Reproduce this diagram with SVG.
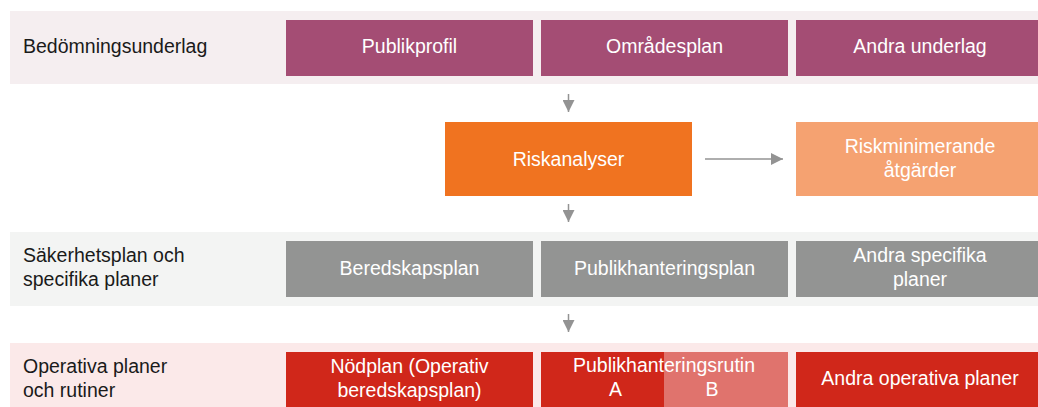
<svg xmlns="http://www.w3.org/2000/svg" width="1038" height="407" viewBox="0 0 1038 407">
  <style>
    text { font-family: "Liberation Sans", Arial, sans-serif; font-size: 19.5px; }
    .lbl { fill: #1a1a1a; }
    .bt { fill: #ffffff; text-anchor: middle; }
    .purple { fill: #a44d74; }
    .gray { fill: #939493; }
    .red { fill: #d0271a; }
    .conn { stroke: #939393; stroke-width: 1.5; fill: none; }
  </style>
  <defs>
    <marker id="ah" viewBox="0 0 12 12" refX="12" refY="6" markerWidth="12" markerHeight="12" markerUnits="userSpaceOnUse" orient="auto">
      <path d="M0,0 L12,6 L0,12 z" fill="#939393"/>
    </marker>
  </defs>

  <!-- bands -->
  <g id="band-bedomning">
    <rect x="10" y="11" width="1028" height="73" fill="#f5eef0"/>
    <text class="lbl" x="23" y="53">Bedömningsunderlag</text>
  </g>
  <g id="band-sakerhet">
    <rect x="10" y="232" width="1028" height="74" fill="#f3f4f3"/>
    <text class="lbl" x="23" y="262">Säkerhetsplan och</text>
    <text class="lbl" x="23" y="286">specifika planer</text>
  </g>
  <g id="band-operativa">
    <rect x="10" y="343" width="1028" height="64" fill="#fbe9e9"/>
    <text class="lbl" x="23" y="373">Operativa planer</text>
    <text class="lbl" x="23" y="397">och rutiner</text>
  </g>

  <!-- row 1 -->
  <g id="publikprofil">
    <rect class="purple" x="286" y="20" width="247" height="56"/>
    <text class="bt" x="409.5" y="53">Publikprofil</text>
  </g>
  <g id="omradesplan">
    <rect class="purple" x="541" y="20" width="247" height="56"/>
    <text class="bt" x="664.5" y="53">Områdesplan</text>
  </g>
  <g id="andra-underlag">
    <rect class="purple" x="796" y="20" width="242" height="56"/>
    <text class="bt" x="920" y="53">Andra underlag</text>
  </g>

  <!-- row 2 -->
  <g id="riskanalyser">
    <rect x="445" y="122" width="247" height="74" fill="#f07320"/>
    <text class="bt" x="568.5" y="166">Riskanalyser</text>
  </g>
  <g id="riskminimerande">
    <rect x="796" y="122" width="242" height="74" fill="#f5a271"/>
    <text class="bt" x="920" y="153">Riskminimerande</text>
    <text class="bt" x="920" y="177">åtgärder</text>
  </g>

  <!-- row 3 -->
  <g id="beredskapsplan">
    <rect class="gray" x="286" y="241" width="247" height="56"/>
    <text class="bt" x="409.5" y="275">Beredskapsplan</text>
  </g>
  <g id="publikhanteringsplan">
    <rect class="gray" x="541" y="241" width="247" height="56"/>
    <text class="bt" x="664.5" y="275">Publikhanteringsplan</text>
  </g>
  <g id="andra-specifika">
    <rect class="gray" x="796" y="241" width="242" height="56"/>
    <text class="bt" x="920" y="262">Andra specifika</text>
    <text class="bt" x="920" y="286">planer</text>
  </g>

  <!-- row 4 -->
  <g id="nodplan">
    <rect class="red" x="286" y="352" width="247" height="55"/>
    <text class="bt" x="409.5" y="373">Nödplan (Operativ</text>
    <text class="bt" x="409.5" y="397">beredskapsplan)</text>
  </g>
  <g id="publikhanteringsrutin">
    <rect class="red" x="541" y="352" width="123" height="55"/>
    <rect x="664" y="352" width="124" height="55" fill="#e0736d"/>
    <text class="bt" x="664" y="372">Publikhanteringsrutin</text>
    <text class="bt" x="615.5" y="396">A</text>
    <text class="bt" x="712" y="396">B</text>
  </g>
  <g id="andra-operativa">
    <rect class="red" x="796" y="352" width="242" height="55"/>
    <text class="bt" x="920" y="385">Andra operativa planer</text>
  </g>

  <!-- connectors -->
  <g id="connectors">
    <line class="conn" x1="568.5" y1="94" x2="568.5" y2="112" marker-end="url(#ah)"/>
    <line class="conn" x1="705" y1="159" x2="783" y2="159" marker-end="url(#ah)"/>
    <line class="conn" x1="568.5" y1="204" x2="568.5" y2="222" marker-end="url(#ah)"/>
    <line class="conn" x1="568.5" y1="314" x2="568.5" y2="332" marker-end="url(#ah)"/>
  </g>
</svg>
